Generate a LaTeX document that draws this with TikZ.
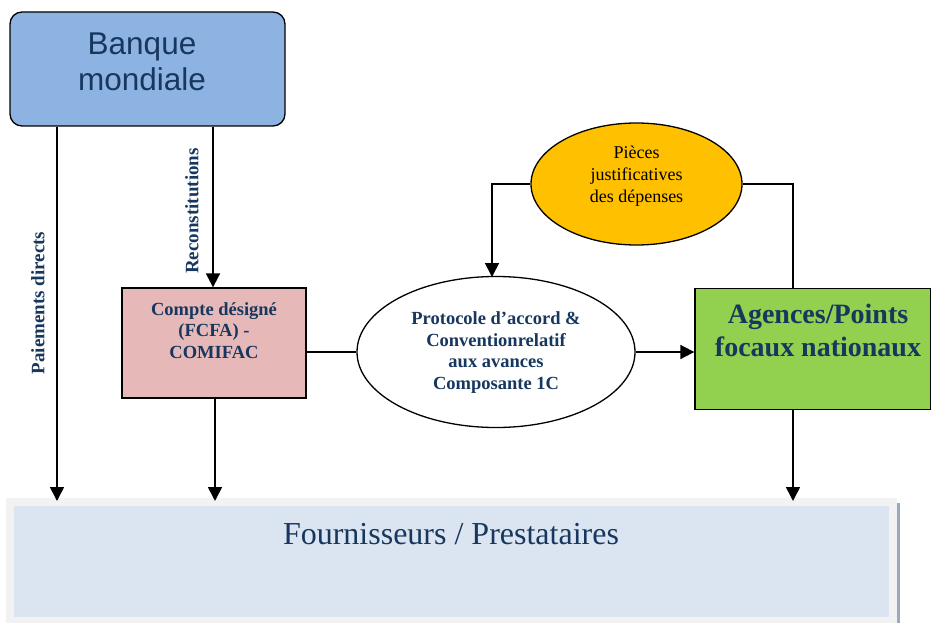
\documentclass[tikz,border=0pt]{standalone}
\usepackage{fontspec}
\setmainfont{Liberation Serif}
\newfontfamily\arialfont{Liberation Sans}
\usetikzlibrary{arrows.meta,shapes.geometric}
\definecolor{dkblue}{HTML}{17375E}
\definecolor{bmfill}{HTML}{8DB3E2}
\definecolor{cdfill}{HTML}{E6B9B8}
\definecolor{pjfill}{HTML}{FFC000}
\definecolor{agfill}{HTML}{92D050}
\definecolor{frfill}{HTML}{DBE5F1}
\definecolor{frborder}{HTML}{F2F2F2}
\definecolor{frshadow}{HTML}{9AAABD}
\tikzset{
  conn/.style={line width=1.7pt},
  arr/.style={conn,-{Triangle[length=14pt,width=14pt]}},
  boxbase/.style={draw=black,line width=1.3pt,inner sep=0pt},
  lbl/.style={font=\bfseries\fontsize{19}{21}\selectfont,text=dkblue,rotate=90,inner sep=0pt}
}
\begin{document}
\begin{tikzpicture}[x=1pt,y=-1pt]
\useasboundingbox (0,0) rectangle (931,623);
% Fournisseurs box
\fill[frborder] (6,498) rectangle (897,623);
\fill[frfill] (14,506) rectangle (889,617);
\fill[frshadow] (897,503) rectangle (900,623);
\node[inner sep=0pt,anchor=base,font=\fontsize{32}{36}\selectfont,text=dkblue] (four) at (451,544) {Fournisseurs / Prestataires};
\coordinate (ftop1) at (57,501);
\coordinate (ftop2) at (215,501);
\coordinate (ftop3) at (793,501);
% Banque mondiale
\node[boxbase,rounded corners=12pt,fill=bmfill,minimum width=275pt,minimum height=114pt] (bm) at (147.5,69) {};
\node[font=\arialfont\fontsize{31.5}{36}\selectfont,text=dkblue,align=center,inner sep=0pt,anchor=base] (bmt) at (142,91) {Banque\\mondiale};
% Compte designe
\node[boxbase,fill=cdfill,minimum width=184pt,minimum height=110pt] (cd) at (214,343) {};
\node[font=\bfseries\fontsize{18.5}{21.5}\selectfont,text=dkblue,align=center,inner sep=0pt,anchor=base] (cdt) at (214,358) {Compte désigné\\(FCFA) -\\COMIFAC};
% Protocole ellipse
\node[draw=black,line width=1.3pt,ellipse,fill=white,minimum width=278pt,minimum height=151pt,inner sep=0pt] (pr) at (496,352) {};
\node[font=\bfseries\fontsize{18.5}{21.5}\selectfont,text=dkblue,align=center,inner sep=0pt,anchor=base] (prt) at (496,389) {Protocole d’accord \&\\Conventionrelatif\\aux avances\\Composante 1C};
% Pieces ellipse
\node[draw=black,line width=1.3pt,ellipse,fill=pjfill,minimum width=211pt,minimum height=122pt,inner sep=0pt] (pj) at (636.5,184) {};
\node[font=\fontsize{18}{22}\selectfont,text=black,align=center,inner sep=0pt,anchor=base] (pjt) at (636.5,202) {Pièces\\justificatives\\des dépenses};
% Agences
\node[boxbase,fill=agfill,minimum width=236pt,minimum height=121pt] (ag) at (813,349) {};
\node[font=\bfseries\fontsize{28}{33}\selectfont,text=dkblue,align=center,inner sep=0pt,anchor=base] (agt) at (818,356) {Agences/Points\\focaux nationaux};
% connectors
\coordinate (prtop) at (492,277);
\draw[arr] (bm.south -| ftop1) -- (ftop1);
\draw[arr] (bm.south -| cd.north) ++(-1,0) coordinate (rtop) -- (rtop |- cd.north);
\draw[arr] (cd.south -| ftop2) -- (ftop2);
\draw[conn] (cd.east |- pr.west) -- (pr.west);
\draw[arr] (pr.east) -- (ag.west |- pr.east);
\draw[arr] (pj.west) -| (prtop);
\draw[conn] (pj.east) -| (ag.north -| ftop3);
\draw[arr] (ag.south -| ftop3) -- (ftop3);
% labels
\node[lbl] (pd) at (38,303) {Paiements directs};
\node[lbl] (rc) at (192,211) {Reconstitutions};
\end{tikzpicture}
\end{document}
